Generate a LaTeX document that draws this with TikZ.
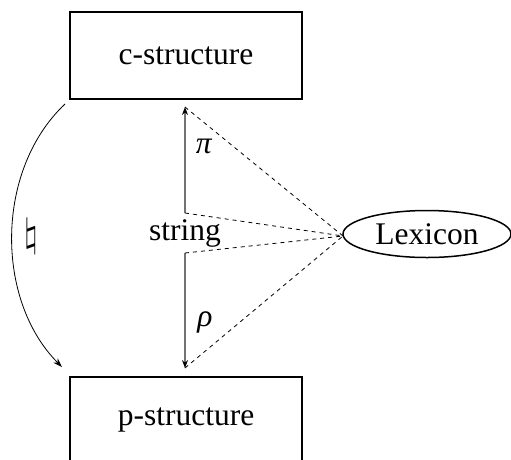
\documentclass[tikz,border=0pt]{standalone}
\usepackage{fontspec}
\setmainfont{Liberation Serif}
\usetikzlibrary{arrows.meta,shapes.geometric}
\begin{document}
\begin{tikzpicture}[x=1pt,y=-1pt,
  every node/.style={font=\fontsize{31.5pt}{38pt}\selectfont},
  structbox/.style={draw,line width=2pt,minimum width=232pt,minimum height=87pt,inner sep=0pt},
  lexshape/.style={draw,ellipse,line width=1.5pt,minimum width=168pt,minimum height=47pt,inner sep=0pt},
  maparrow/.style={draw=black!55,line width=1.1pt,-{Stealth[length=8pt,width=6pt,color=black]}},
  lexlink/.style={draw,line width=0.8pt,dash pattern=on 4pt off 4pt},
  curvearrow/.style={draw,line width=0.8pt,-{Stealth[length=9pt,width=6pt]}},
  lbl/.style={inner sep=0pt}]
\useasboundingbox (0,0) rectangle (511,459);
\node[structbox] (c) at (186,55.5) {c-structure};
\node[structbox] (p) at (186,420) {p-structure};
\node[lbl] (s) at (185,233) {string};
\node[lexshape] (lex) at (427,234) {Lexicon};
\coordinate (sU) at (185,213);
\coordinate (sD) at (185,253);
\coordinate (tU) at (185,107);
\coordinate (tD) at (185,368);
\coordinate (lw) at (343,236);
\draw[maparrow] (sU) -- (tU);
\draw[maparrow] (sD) -- (tD);
\draw[lexlink] (tU) -- (lw);
\draw[lexlink] (sU) -- (lw);
\draw[lexlink] (sD) -- (lw);
\draw[lexlink] (tD) -- (lw);
\coordinate (cs) at (65,104);
\coordinate (ce) at (62,367);
\draw[curvearrow] (cs) .. controls (-5,170) and (-5,300) .. (ce);
\node[lbl] (nat) at (31,237) {\scalebox{1.6}{$\natural$}};
\node[lbl] (pi) at (204,146) {\textit{π}};
\node[lbl] (rho) at (205,322) {\textit{ρ}};
\end{tikzpicture}
\end{document}
